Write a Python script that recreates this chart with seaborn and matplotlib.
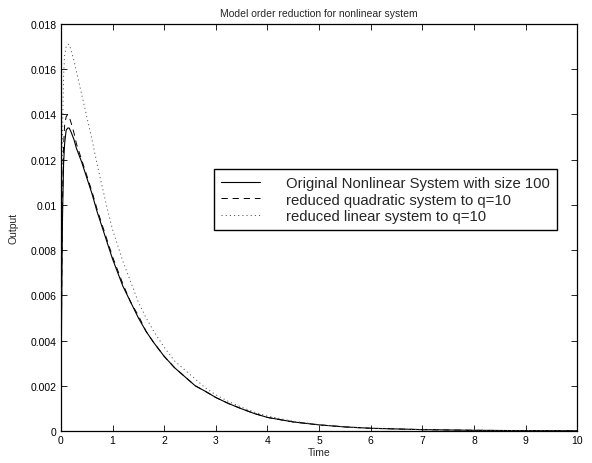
import matplotlib

matplotlib.use("Agg")
import matplotlib.pyplot as plt
import pandas as pd
import seaborn as sns
from matplotlib.ticker import FixedLocator, FuncFormatter


# values
time = [0, 0.005, 0.01, 0.02, 0.03, 0.05, 0.07, 0.1, 0.13, 0.16, 0.2, 0.25,
        0.3, 0.4, 0.5, 0.6, 0.7, 0.8, 0.9, 1.0, 1.1, 1.2, 1.35, 1.5, 1.65,
        1.8, 2.0, 2.2, 2.4, 2.6, 2.8, 3.0, 3.25, 3.5, 3.75, 4.0, 4.5, 5.0,
        5.5, 6.0, 6.5, 7.0, 8.0, 9.0, 10.0]

original = [0, 0.0025, 0.0045, 0.0075, 0.0095, 0.0118, 0.0127, 0.0133,
            0.0134, 0.0134, 0.0132, 0.0129, 0.0125, 0.0119, 0.0112, 0.0105,
            0.0097, 0.0090, 0.0083, 0.0076, 0.0070, 0.0064, 0.0057, 0.0050,
            0.0044, 0.0039, 0.0033, 0.0028, 0.0024, 0.0020, 0.00175, 0.00148,
            0.00121, 0.00098, 0.00077, 0.00060, 0.00040, 0.00027, 0.00018,
            0.00012, 0.00009, 0.00006, 0.00003, 0.000015, 0.00001]

quadratic = [0, 0.0028, 0.0050, 0.0082, 0.0103, 0.0126, 0.0135, 0.0139,
             0.0140, 0.0139, 0.0136, 0.0132, 0.0127, 0.0120, 0.0113, 0.0106,
             0.0098, 0.0091, 0.0084, 0.0077, 0.0071, 0.0065, 0.0057, 0.0051,
             0.0044, 0.0039, 0.0033, 0.0028, 0.0024, 0.0020, 0.00175, 0.00148,
             0.00121, 0.00098, 0.00077, 0.00060, 0.00040, 0.00027, 0.00018,
             0.00012, 0.00009, 0.00006, 0.00003, 0.000015, 0.00001]

linear = [0, 0.0040, 0.0070, 0.0110, 0.0133, 0.0157, 0.0166, 0.0170,
          0.0171, 0.0171, 0.0168, 0.0164, 0.0159, 0.0149, 0.0139, 0.0129,
          0.0118, 0.0108, 0.0098, 0.0089, 0.0082, 0.0075, 0.0066, 0.0057,
          0.0050, 0.0044, 0.0037, 0.0031, 0.0027, 0.0023, 0.0019, 0.0016,
          0.0013, 0.00105, 0.00083, 0.00066, 0.00043, 0.00028, 0.00018,
          0.00012, 0.00009, 0.00006, 0.00003, 0.000015, 0.00001]

labels = [
    "Original Nonlinear System with size 100",
    "reduced quadratic system to q=10",
    "reduced linear system to q=10",
]

x_ticks = list(range(0, 11))
y_ticks = [0, 0.002, 0.004, 0.006, 0.008, 0.01, 0.012, 0.014, 0.016, 0.018]


def main():
    sns.set_style("ticks")
    plt.rcParams.update(
        {
            "font.family": ["Liberation Sans", "DejaVu Sans"],
            "font.size": 7.5,
            "lines.scale_dashes": False,
            "axes.linewidth": 0.9,
            "xtick.direction": "in",
            "ytick.direction": "in",
            "xtick.top": True,
            "ytick.right": True,
            "xtick.major.size": 4,
            "ytick.major.size": 4,
            "xtick.color": "black",
            "ytick.color": "black",
            "axes.edgecolor": "black",
        }
    )

    df = pd.DataFrame(
        {"Time": time, "original": original, "quadratic": quadratic, "linear": linear}
    )

    fig, ax = plt.subplots(figsize=(5.92, 4.64), dpi=100)
    fig.subplots_adjust(left=0.103, right=0.975, bottom=0.069, top=0.946)

    sns.lineplot(data=df, x="Time", y="original", color="black",
                 linewidth=0.8, label=labels[0], ax=ax)
    sns.lineplot(data=df, x="Time", y="quadratic", color="black",
                 linewidth=0.7, linestyle=(0, (4.5, 3.5)), label=labels[1], ax=ax)
    sns.lineplot(data=df, x="Time", y="linear", color="#555555",
                 linewidth=0.7, linestyle=(0, (0.8, 2.2)), label=labels[2], ax=ax)

    ax.set_xlim(0, 10)
    ax.set_ylim(0, 0.018)
    ax.xaxis.set_major_locator(FixedLocator(x_ticks))
    ax.yaxis.set_major_locator(FixedLocator(y_ticks))
    ax.yaxis.set_major_formatter(FuncFormatter(lambda v, _: f"{v:g}"))
    ax.tick_params(labelsize=7.5, width=0.6, pad=3)

    ax.set_title("Model order reduction for nonlinear system", fontsize=7.5, pad=5.5)
    ax.set_xlabel("Time", fontsize=7.5, labelpad=1)
    ax.set_ylabel("Output", fontsize=7.5, labelpad=9)

    leg = ax.legend(
        loc="upper right",
        bbox_to_anchor=(0.961, 0.644),
        fontsize=10.7,
        frameon=True,
        fancybox=False,
        framealpha=1,
        edgecolor="black",
        handlelength=2.6,
        handletextpad=1.75,
        labelspacing=0.15,
        borderpad=0.5,
        borderaxespad=0,
    )
    leg.get_frame().set_linewidth(1.0)

    fig.savefig("out.png", dpi=100)
    plt.close(fig)


if __name__ == "__main__":
    main()
